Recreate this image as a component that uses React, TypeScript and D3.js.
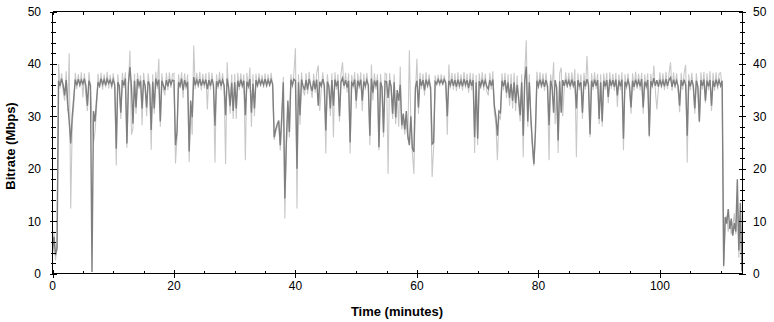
import React from "react";
import * as d3 from "d3";

// sample spacing of the series, minutes
const SAMPLE_STEP = 0.25;

// darker trace (average bitrate, Mbps), one value every 0.25 min
const avgMbps: number[] = [
  4.2,7.0,3.5,4.8, 36.8,35.8,37.2,36.0, 34.0,36.9,32.5,29.0, 24.8,30.0,33.5,37.0, 35.9,37.1,36.0,36.9,
  36.2,37.2,35.8,32.0, 36.8,35.9,0.3,31.0, 29.0,33.0,36.5,35.8, 37.2,36.1,37.0,35.9, 37.1,36.3,36.9,35.9,
  37.0,36.0,23.8,36.5, 35.8,30.7,36.9,35.9, 37.2,24.8,36.3,39.4, 35.7,28.6,36.8,31.7, 37.1,35.9,36.8,31.5,
  36.9,35.8,31.7,36.7, 36.0,27.4,36.6,31.5, 37.2,36.0,37.0,29.0, 36.8,35.9,35.0,36.9, 35.7,37.1,36.1,36.9,
  36.8,24.5,27.0,36.5, 35.8,37.2,35.0,36.9, 35.8,36.6,23.3,33.0, 29.8,37.5,35.9,36.9, 36.0,37.1,35.8,36.8,
  36.1,37.0,35.2,36.9, 35.8,37.1,36.0,28.2, 36.7,35.9,37.0,35.8, 36.9,35.9,30.2,37.2, 35.5,32.0,36.4,31.0,
  36.5,31.5,36.8,35.6, 37.0,35.9,36.8,30.2, 36.6,35.8,37.1,30.7, 36.2,31.5,36.9,35.9, 37.0,36.1,36.9,36.0,
  37.1,35.9,36.9,36.0, 37.0,36.1,26.0,27.5, 28.5,29.2,24.5,30.0, 36.5,14.3,25.0,33.0, 27.0,37.0,36.0,37.1,
  36.8,20.0,36.5,30.2, 37.0,35.8,35.0,36.9, 35.1,37.1,35.9,34.8, 36.8,35.2,37.0,32.0, 36.6,35.8,37.1,35.9,
  27.3,36.6,35.8,31.5, 36.9,32.0,37.0,35.7, 36.8,30.0,36.5,37.3, 35.8,36.9,35.5,36.8, 25.0,36.4,35.9,37.0,
  33.0,36.8,35.9,37.0, 33.0,36.7,35.8,36.9, 35.9,26.3,37.2,34.5, 36.8,35.9,36.9,24.1, 36.5,35.6,26.9,36.7,
  36.6,33.5,36.9,35.7, 30.5,36.5,29.8,35.0, 33.0,36.0,28.3,30.5, 27.5,31.0,26.3,24.5, 30.0,23.9,23.2,35.5,
  36.8,31.7,37.1,35.8, 36.9,35.0,37.0,35.9, 36.8,35.5,24.7,25.0, 36.6,36.2,37.0,36.3, 36.9,36.2,37.0,36.4,
  30.0,36.8,36.0,37.1, 35.8,36.9,35.6,37.0, 35.9,36.8,35.7,37.1, 36.0,36.9,35.4,37.0, 35.8,36.9,26.0,36.5,
  25.7,36.7,35.8,37.0, 35.9,36.8,35.7,35.2, 36.9,35.8,37.0,32.0, 30.0,26.3,31.0,30.7, 36.8,35.7,36.9,34.5,
  36.5,33.5,36.2,33.0, 36.5,32.5,36.0,33.5, 30.2,36.5,26.3,36.8, 39.5,29.0,36.5,30.0, 25.0,20.9,27.0,36.8,
  35.8,37.0,35.9,36.8, 35.6,36.9,35.7,28.3, 36.8,35.6,30.7,36.9, 35.5,25.4,36.7,30.7, 36.9,35.8,37.0,35.9,
  36.8,35.7,37.0,35.9, 36.7,31.5,36.9,35.8, 36.5,30.7,36.8,35.7, 37.1,36.0,26.6,36.8, 35.6,37.0,35.8,36.9,
  29.5,36.5,29.0,36.8, 35.7,36.9,33.7,37.0, 35.8,36.9,35.6,37.0, 34.0,36.8,35.7,37.0, 25.7,36.6,35.8,36.9,
  35.8,31.7,36.8,35.6, 37.0,35.9,36.8,35.7, 37.1,31.7,36.6,35.8, 36.9,26.3,36.7,35.9, 37.3,35.8,36.9,35.6,
  37.0,35.9,36.8,35.7, 37.1,35.8,36.9,37.4, 35.6,37.0,35.9,36.8, 35.7,32.0,36.9,35.8, 37.0,35.9,26.3,36.8,
  35.7,36.9,35.8,31.5, 36.8,35.7,29.0,36.9, 35.8,37.0,33.0,36.8, 35.7,36.9,32.0,36.8, 35.6,37.0,35.9,36.9,
  35.8,36.8,1.5,10.8, 9.5,12.3,8.5,10.5, 7.2,9.6,8.0,18.0, 4.4,13.5,0.5,
];

// lighter trace (instantaneous bitrate, Mbps), one value every 0.25 min
const peakMbps: number[] = [
  3.5,8.0,2.5,6.0, 40.0,35.3,38.2,34.8, 33.0,38.6,31.0,42.0, 12.4,28.5,32.0,38.3, 35.2,38.0,35.5,38.4,
  33.6,38.2,33.8,31.0, 38.4,35.2,30.0,25.0, 27.0,31.5,38.1,35.4, 38.3,35.1,38.0,35.5, 38.5,35.3,37.9,35.2,
  38.2,35.3,20.6,38.0, 35.0,29.5,38.3,35.4, 38.4,24.0,35.8,42.5, 26.5,27.8,38.1,30.5, 38.3,35.2,37.8,28.3,
  38.3,35.3,30.0,38.2, 35.4,23.6,38.0,30.5, 38.5,35.2,41.0,28.0, 38.2,35.1,34.0,38.3, 35.0,38.4,35.4,38.1,
  38.2,21.0,26.0,38.0, 35.3,38.4,33.5,38.2, 35.1,38.0,21.3,32.0, 26.5,43.5,35.2,38.3, 35.4,38.5,35.0,38.1,
  35.3,38.2,31.3,38.4, 35.1,38.3,35.4,21.2, 38.0,35.2,38.5,35.0, 38.2,35.3,20.9,40.3, 34.8,30.5,38.0,29.5,
  38.1,29.5,38.3,35.0, 38.2,35.3,38.0,21.6, 38.3,35.2,39.3,28.0, 38.0,30.0,38.1,35.5, 38.2,35.6,37.9,35.4,
  38.2,35.5,38.0,35.6, 38.3,35.5,25.5,27.0, 28.0,28.5,23.5,29.0, 37.5,10.5,24.0,32.0, 26.0,38.0,35.3,38.4,
  43.0,12.4,38.0,28.4, 38.4,35.0,34.0,38.2, 34.2,38.5,35.3,33.5, 38.1,34.5,38.3,39.7, 31.0,35.2,38.4,35.1,
  22.9,38.0,35.0,30.0, 38.2,26.0,38.4,35.1, 38.0,29.0,38.1,40.3, 35.2,38.3,34.5,38.2, 22.9,37.9,35.3,38.4,
  31.5,38.2,35.2,38.4, 31.0,38.1,35.0,38.3, 35.4,24.5,39.9,33.0, 38.2,35.1,38.0,23.5, 38.1,34.8,26.0,38.2,
  38.0,19.0,38.2,35.0, 29.5,38.0,28.5,34.0, 28.0,39.5,27.5,29.5, 26.5,30.0,25.5,42.6, 29.0,23.0,19.0,34.5,
  41.0,30.5,38.3,35.2, 38.1,34.0,38.4,35.3, 38.0,34.5,18.4,24.0, 37.8,35.8,37.9,35.7, 38.0,35.9,37.8,35.6,
  26.5,39.9,35.3,38.3, 35.1,38.2,34.8,38.4, 35.2,38.0,34.9,38.5, 35.3,38.1,34.5,38.3, 35.0,38.2,23.0,37.9,
  24.5,38.2,35.2,38.4, 35.0,38.1,34.8,34.0, 38.3,35.1,38.6,30.5, 28.5,21.6,30.0,29.5, 38.2,35.0,38.3,33.5,
  38.0,32.0,38.1,31.5, 38.3,31.0,37.8,32.0, 29.0,38.0,22.2,38.2, 44.5,28.0,38.0,29.0, 24.0,20.5,26.0,38.5,
  35.2,38.4,35.3,38.2, 34.9,38.3,35.0,21.6, 38.0,35.1,40.3,28.5, 34.9,23.0,38.2,39.3, 30.0,35.2,38.4,35.4,
  38.3,35.1,38.4,35.3, 39.0,22.2,38.2,35.0, 38.0,29.5,38.3,35.1, 41.5,35.3,26.0,38.2, 35.0,38.4,35.2,38.1,
  28.5,38.0,28.0,38.2, 35.1,38.3,32.5,38.4, 35.2,38.1,34.9,38.3, 31.8,38.0,35.0,38.4, 23.5,38.0,35.1,38.2,
  35.0,30.5,38.2,34.9, 38.5,35.2,38.1,35.0, 38.3,30.5,38.0,35.1, 38.2,26.0,38.1,35.3, 39.7,35.0,31.3,35.2,
  38.4,35.3,38.2,35.0, 38.5,35.2,38.1,40.3, 34.9,38.4,35.3,38.2, 35.0,30.8,38.3,35.1, 38.4,39.8,21.2,38.0,
  35.0,38.3,35.2,30.5, 38.2,35.0,28.8,38.4, 35.1,38.5,32.5,38.2, 35.0,38.6,31.0,38.3, 34.9,38.4,35.1,38.2,
  38.3,35.2,1.2,9.0, 11.0,8.0,10.0,7.5, 9.0,11.5,7.5,14.0, 3.0,10.0,0.3,
];

const xMajorTicks = [0, 20, 40, 60, 80, 100];
const xMinorTicks = [5, 10, 15, 25, 30, 35, 45, 50, 55, 65, 70, 75, 85, 90, 95, 105, 110];
const yMajorTicks = [0, 10, 20, 30, 40, 50];
const yMinorTicks = [2, 4, 6, 8, 12, 14, 16, 18, 22, 24, 26, 28, 32, 34, 36, 38, 42, 44, 46, 48];

const X_DOMAIN: [number, number] = [0, 113.6];
const Y_DOMAIN: [number, number] = [0, 50];

const W = 774;
const H = 322;
const L = 52.5;
const R = 742.5;
const T = 11.5;
const B = 273.5;

const FONT = "'Liberation Sans', Arial, sans-serif";

export default function App() {
  const x = d3.scaleLinear().domain(X_DOMAIN).range([L, R]);
  const y = d3.scaleLinear().domain(Y_DOMAIN).range([B, T]);

  const line = d3
    .line<number>()
    .x((_, i) => x(i * SAMPLE_STEP))
    .y((v) => y(v));

  const axisColor = "#000";
  const px = (v: number) => Math.round(v) + 0.5;

  return (
    <svg
      width={W}
      height={H}
      style={{ position: "absolute", left: 0, top: 0, display: "block", background: "#fff" }}
    >
      <rect x={0} y={0} width={W} height={H} fill="#fff" />
      {/* data */}
      <path d={line(peakMbps) || ""} fill="none" stroke="#c8c8c8" strokeWidth={1.1} strokeLinejoin="miter" />
      <path d={line(avgMbps) || ""} fill="none" stroke="#7f7f7f" strokeWidth={1.4} strokeLinejoin="miter" />

      {/* frame lines */}
      <g stroke={axisColor} strokeWidth={1} shapeRendering="crispEdges">
        <line x1={L} y1={B} x2={R} y2={B} />
        <line x1={L} y1={T} x2={R} y2={T} />
        <line x1={L} y1={T} x2={L} y2={B} />
        <line x1={R} y1={T} x2={R} y2={B} />
        {xMajorTicks.map((t) => (
          <line key={"bx" + t} x1={px(x(t))} x2={px(x(t))} y1={B - 4} y2={B + 4} />
        ))}
        {xMinorTicks.map((t) => (
          <line key={"bm" + t} x1={px(x(t))} x2={px(x(t))} y1={B - 3} y2={B} />
        ))}
        {[...xMajorTicks, ...xMinorTicks].map((t) => (
          <line key={"tx" + t} x1={px(x(t))} x2={px(x(t))} y1={T} y2={T + 3} />
        ))}
        {yMajorTicks.map((v) => (
          <g key={"ly" + v}>
            <line x1={L - 3} x2={L + 4} y1={px(y(v))} y2={px(y(v))} />
            <line x1={R - 4} x2={R + 3} y1={px(y(v))} y2={px(y(v))} />
          </g>
        ))}
        {yMinorTicks.map((v) => (
          <g key={"lm" + v}>
            <line x1={L - 2} x2={L + 3} y1={px(y(v))} y2={px(y(v))} />
            <line x1={R - 3} x2={R + 2} y1={px(y(v))} y2={px(y(v))} />
          </g>
        ))}
      </g>

      {/* tick labels */}
      <g fontFamily={FONT} fontSize={12} fill="#000">
        {xMajorTicks.map((t) => (
          <text key={"xl" + t} x={x(t)} y={290} textAnchor="middle">
            {t}
          </text>
        ))}
        {yMajorTicks.map((v) => (
          <text key={"yl" + v} x={41} y={y(v) + 4.5} textAnchor="end">
            {v}
          </text>
        ))}
        {yMajorTicks.map((v) => (
          <text key={"yr" + v} x={753} y={y(v) + 4.5} textAnchor="start">
            {v}
          </text>
        ))}
      </g>

      {/* axis titles */}
      <text x={397} y={316} textAnchor="middle" fontFamily={FONT} fontSize={13} fontWeight="bold" fill="#000">
        Time (minutes)
      </text>
      <text
        transform={`translate(15, 146) rotate(-90)`}
        textAnchor="middle"
        fontFamily={FONT}
        fontSize={13}
        fontWeight="bold"
        fill="#000"
      >
        Bitrate (Mbps)
      </text>
    </svg>
  );
}
